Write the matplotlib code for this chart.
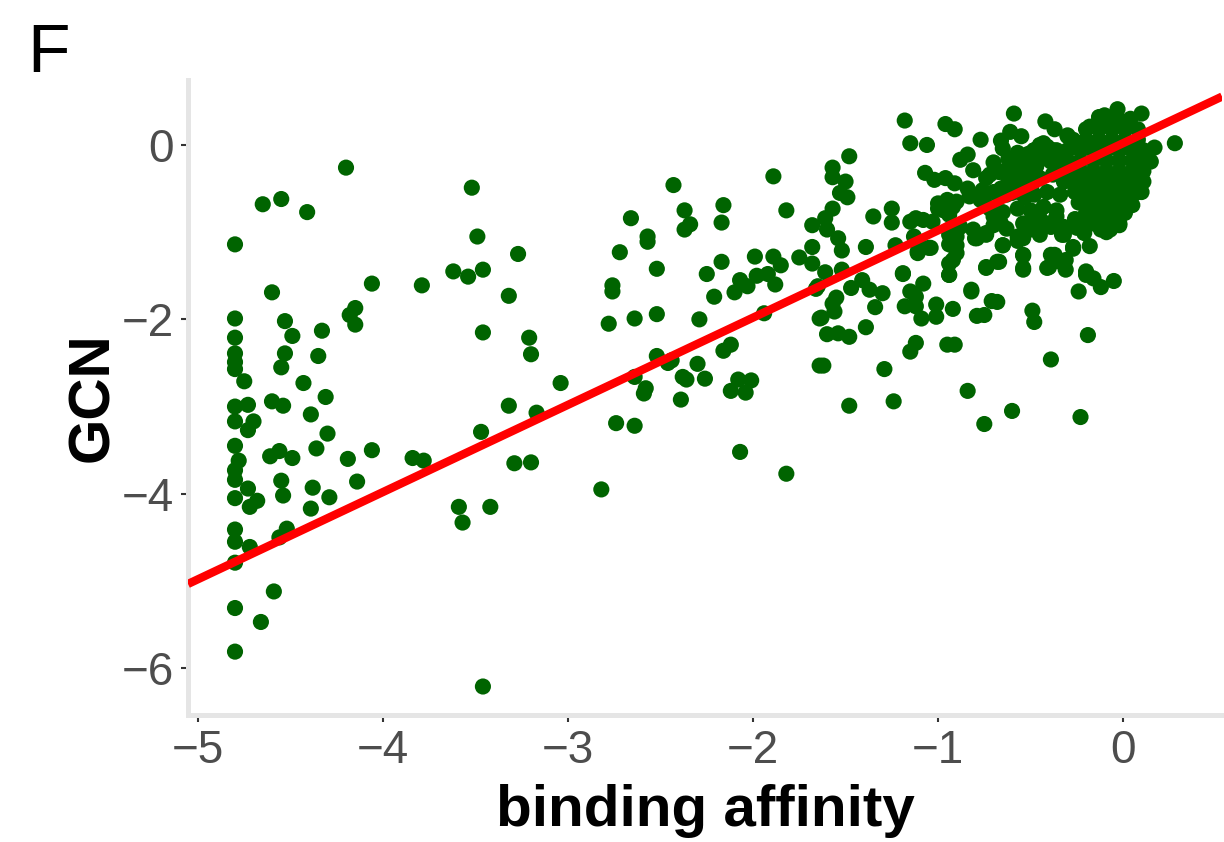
import matplotlib.pyplot as plt
import numpy as np

plt.rcParams['font.family'] = ['Liberation Sans', 'DejaVu Sans']

# left part of the cloud (strong binders)
left_x = [-4.20, -4.65, -4.55, -4.41, -4.80, -3.52, -3.49, -4.60, -4.06, -3.79,
          -3.62, -3.54, -3.46, -4.80, -4.53, -4.49, -4.33, -4.18, -4.15, -4.15,
          -3.46, -4.80, -4.80, -4.80, -4.80, -4.53, -4.55, -4.35, -4.75, -4.43,
          -4.80, -4.73, -4.80, -4.70, -4.73, -4.80, -4.78, -4.80, -4.80, -4.73,
          -4.80, -4.72, -4.68, -4.80, -4.80, -4.72, -4.80, -4.59, -4.80, -4.66,
          -4.80, -4.60, -4.54, -4.61, -4.56, -4.55, -4.54, -4.52, -4.56, -4.31,
          -4.39, -4.30, -4.36, -4.49, -4.19, -4.06, -3.84, -3.78, -3.47, -4.38,
          -4.14, -4.29, -4.39, -3.59, -3.42, -3.57, -3.46]
left_y = [-0.26, -0.68, -0.62, -0.77, -1.14, -0.49, -1.05, -1.69, -1.59, -1.61,
          -1.45, -1.51, -1.43, -1.99, -2.02, -2.19, -2.13, -1.95, -1.87, -2.06,
          -2.15, -2.21, -2.39, -2.49, -2.57, -2.39, -2.55, -2.42, -2.71, -2.73,
          -3.00, -2.98, -3.17, -3.17, -3.27, -3.45, -3.62, -3.73, -3.84, -3.94,
          -4.05, -4.15, -4.08, -4.41, -4.55, -4.61, -4.79, -5.12, -5.31, -5.47,
          -5.81, -2.94, -2.99, -3.57, -3.51, -3.85, -4.02, -4.40, -4.50, -2.89,
          -3.09, -3.31, -3.48, -3.59, -3.60, -3.50, -3.59, -3.62, -3.29, -3.93,
          -3.86, -4.04, -4.17, -4.15, -4.15, -4.33, -6.21]

# middle part
mid_x = [-3.27, -3.32, -3.21, -3.20, -3.04, -3.32, -3.17, -3.29, -3.20, -2.82,
         -2.66, -2.57, -2.57, -2.72, -2.52, -2.76, -2.76, -2.78, -2.64, -2.52,
         -2.43, -2.37, -2.34, -2.37, -2.17, -2.16, -1.89, -1.82, -1.68, -1.68,
         -1.68, -1.75, -2.25, -2.17, -2.21, -2.29, -1.99, -1.89, -1.85, -2.07,
         -2.03, -2.10, -1.98, -1.92, -1.88, -1.94, -1.65, -1.64, -1.64, -2.52,
         -2.46, -2.44, -2.64, -2.58, -2.59, -2.38, -2.36, -2.30, -2.26, -2.39,
         -2.74, -2.64, -2.16, -2.12, -2.08, -2.01, -2.12, -2.04, -2.07, -1.82]
mid_y = [-1.25, -1.73, -2.21, -2.40, -2.73, -2.99, -3.07, -3.65, -3.64, -3.95,
         -0.84, -1.05, -1.11, -1.23, -1.42, -1.61, -1.68, -2.05, -1.99, -1.94,
         -0.46, -0.75, -0.91, -0.97, -0.89, -0.69, -0.36, -0.75, -0.92, -1.17,
         -1.36, -1.29, -1.48, -1.34, -1.74, -2.00, -1.28, -1.28, -1.38, -1.55,
         -1.62, -1.69, -1.50, -1.48, -1.60, -1.93, -1.62, -1.99, -2.53, -2.42,
         -2.50, -2.47, -2.66, -2.79, -2.85, -2.66, -2.69, -2.51, -2.68, -2.92,
         -3.19, -3.22, -2.36, -2.29, -2.69, -2.70, -2.82, -2.84, -3.52, -3.77]

# right part, scattered points
right_x = [-1.18, -0.96, -0.91, -1.15, -1.06, -0.77, -0.59, -0.42, -0.37, -0.61,
           -0.55, -0.65, -0.57, 0.10, -0.03, 0.28, 0.17, 0.15, -1.48, -1.57,
           -1.57, -1.50, -1.53, -1.49, -1.57, -1.61, -1.60, -1.54, -1.52, -1.61,
           -1.52, -1.66, -1.47, -1.41, -1.37, -1.30, -1.55, -1.57, -1.56, -1.63,
           -1.34, -1.39, -1.60, -1.54, -1.48, -1.62, -1.48, -1.29, -1.24, -1.35,
           -1.25, -1.25, -1.39, -1.23, -1.19, -1.08, -1.15, -1.12, -1.18, -1.12,
           -1.09, -1.12, -1.15, -1.01, -1.01, -0.92, -0.95, -0.91, -0.84, -0.75,
           -0.60, -0.23, -0.39, -0.19, -0.82, -0.79, -0.75, -0.71, -0.68, -0.49,
           -0.48, -0.24, -0.20, -0.16, -0.12, -0.05, -0.41, -0.37, -0.31, -0.31,
           -0.54, -0.54, -0.74, -0.67, -0.94, -0.94, -0.94, -0.90, -0.65, -0.57,
           -0.27, -0.18, -1.11, -1.05, -1.19, -1.09, -1.04, -1.11, -0.80, -0.74,
           -0.82, -0.92, -0.94]
right_y = [0.28, 0.24, 0.18, 0.02, 0.00, 0.06, 0.36, 0.27, 0.18, 0.15,
           0.10, -0.04, -0.09, 0.36, 0.41, 0.02, -0.03, -0.19, -0.13, -0.26,
           -0.37, -0.42, -0.55, -0.60, -0.73, -0.84, -0.97, -1.07, -1.21, -1.46,
           -1.43, -1.65, -1.64, -1.55, -1.66, -1.70, -1.75, -1.82, -1.91, -1.98,
           -1.86, -2.09, -2.17, -2.16, -2.20, -2.53, -2.99, -2.57, -2.94, -0.82,
           -0.73, -0.89, -1.17, -1.15, -1.47, -1.59, -1.68, -1.74, -1.85, -1.85,
           -1.99, -2.27, -2.37, -1.83, -1.97, -1.88, -2.29, -2.29, -2.82, -3.20,
           -3.05, -3.12, -2.46, -2.18, -1.68, -1.96, -1.95, -1.79, -1.80, -1.90,
           -2.03, -1.68, -1.49, -1.53, -1.63, -1.56, -1.41, -1.26, -1.32, -1.43,
           -1.27, -1.43, -1.40, -1.34, -1.36, -1.49, -1.14, -1.24, -1.15, -1.10,
           -1.17, -1.16, -1.22, -1.18, -1.48, -1.17, -1.18, -1.24, -1.07, -1.41,
           -1.66, -1.32, -1.49]

# crowded area along the fit
dense_x = [-1.13, -1.15, -1.12, -1.08, -1.03, -1.00, -0.95, -0.92, -0.97, -1.00,
           -1.07, -1.02, -0.96, -0.91, -0.84, -0.83, -0.88, -0.84, -0.81, -0.77,
           -0.74, -0.70, -0.66, -0.81, -0.79, -0.74, -0.94, -0.90, -0.88, -0.57,
           -0.50, -0.48, -0.45, -0.40, -0.36, -0.32, -0.33, -0.48, -0.43, -0.38,
           -0.45, -0.50, -0.34, -0.30, -0.25, -0.21, -0.12, -0.07, -0.02, 0.02,
           -0.13, -0.10, -0.18, -0.30, 0.09, 0.10, 0.05, -0.09, -0.23, -0.45,
           -0.36, -0.41, -0.52, -0.47, -0.47, -0.39, -0.34, -0.76, -0.74, -0.99,
           -0.95, -0.90, -0.94, -0.94, -0.90, -0.26, -0.25]
dense_y = [-1.05, -0.88, -0.84, -0.86, -0.88, -0.67, -0.63, -0.71, -0.75, -0.73,
           -0.32, -0.40, -0.38, -0.44, -0.50, -0.59, -0.17, -0.11, -0.29, -0.63,
           -0.69, -0.82, -0.90, -0.97, -1.07, -1.01, -0.97, -1.05, -0.94, -1.05,
           -0.97, -0.90, -0.84, -0.90, -0.82, -0.94, -1.03, -0.06, 0.02, -0.06,
           -0.17, -0.21, -0.17, 0.11, -0.88, -1.01, -0.97, -0.97, -0.92, 0.25,
           0.32, 0.34, 0.21, 0.10, -0.38, -0.54, -0.69, -1.00, -0.88, 0.00,
           -0.06, -0.13, -0.19, -0.25, -0.11, -0.19, -0.27, -0.52, -0.38, -0.69,
           -0.75, -0.65, -0.80, -1.03, -1.15, -0.85, -0.95]

band_x = [-0.72, -0.67, -0.59, -0.52, -0.45, -0.38, -0.32, -0.70, -0.63, -0.56,
          -0.48, -0.41, -0.34, -0.72, -0.65, -0.57, -0.50, -0.43, -0.36, -0.70,
          -0.63, -0.54, -0.47, -0.39, -0.32, -0.74, -0.54, -0.45, -0.32, -0.27,
          -0.65, -0.54, -0.68, -0.39, -0.34, -0.54, -0.40, -0.20, -0.64, -0.58,
          -0.52, -0.62, -0.55, -0.49, -0.60, -0.53, -0.66, -0.70, -0.62, -0.55,
          -0.48, -0.41, -0.66, -0.58, -0.51]
band_y = [-0.34, -0.31, -0.34, -0.38, -0.38, -0.34, -0.42, -0.54, -0.57, -0.54,
          -0.57, -0.54, -0.57, -0.73, -0.77, -0.73, -0.75, -0.71, -0.75, -0.92,
          -0.96, -0.90, -0.92, -0.94, -1.00, -1.03, -1.07, -1.03, -1.03, -1.19,
          -1.15, -1.26, -1.34, -1.26, -1.34, -1.41, -1.40, -1.45, -0.30, -0.28,
          -0.30, -0.42, -0.45, -0.44, -0.55, -0.60, -0.50, -0.20, -0.16, -0.12,
          -0.06, -0.02, 0.05, -0.22, -0.10]

# the solid core near zero
core_x = [-0.10, -0.03, 0.04,
          -0.20, -0.13, -0.06, 0.01, 0.08,
          -0.27, -0.20, -0.13, -0.06, 0.01, 0.08,
          -0.30, -0.23, -0.16, -0.09, -0.02, 0.05, 0.11,
          -0.30, -0.23, -0.16, -0.09, -0.02, 0.05, 0.11,
          -0.30, -0.23, -0.16, -0.09, -0.02, 0.05, 0.11,
          -0.28, -0.21, -0.14, -0.07, 0.00, 0.07, 0.11,
          -0.26, -0.19, -0.12, -0.05, 0.02, 0.08,
          -0.24, -0.17, -0.10, -0.03, 0.04,
          -0.20, -0.13, -0.06, 0.01,
          -0.16, -0.09, -0.02]
core_y = [0.30, 0.30, 0.30,
          0.18, 0.18, 0.18, 0.18, 0.18,
          0.06, 0.06, 0.06, 0.06, 0.06, 0.06,
          -0.06, -0.06, -0.06, -0.06, -0.06, -0.06, -0.06,
          -0.18, -0.18, -0.18, -0.18, -0.18, -0.18, -0.18,
          -0.30, -0.30, -0.30, -0.30, -0.30, -0.30, -0.30,
          -0.42, -0.42, -0.42, -0.42, -0.42, -0.42, -0.42,
          -0.54, -0.54, -0.54, -0.54, -0.54, -0.54,
          -0.66, -0.66, -0.66, -0.66, -0.66,
          -0.78, -0.78, -0.78, -0.78,
          -0.90, -0.90, -0.90]

# fitted line
slope = 1.0
intercept = 0.02

xlim = (-5.054, 0.535)
ylim = (-6.537, 0.745)

affinity = np.concatenate([left_x, mid_x, right_x, dense_x, band_x, core_x])
gcn = np.concatenate([left_y, mid_y, right_y, dense_y, band_y, core_y])

fig = plt.figure(figsize=(12.24, 8.42), dpi=100)
ax = fig.add_axes([0.1536, 0.1508, 0.8448, 0.7542])

ax.scatter(affinity, gcn, s=135, color='#006400', edgecolors='none', zorder=2)
xs = np.array(xlim)
ax.plot(xs, slope * xs + intercept, color='#FF0000', lw=6,
        solid_capstyle='butt', zorder=3)

ax.set_xlim(xlim)
ax.set_ylim(ylim)
ax.set_xticks([-5, -4, -3, -2, -1, 0])
ax.set_yticks([0, -2, -4, -6])

for s in ['top', 'right']:
    ax.spines[s].set_visible(False)
for s in ['left', 'bottom']:
    ax.spines[s].set_color('#E5E5E5')
    ax.spines[s].set_linewidth(3.6)

ax.tick_params(length=5, width=1.5, color='#333333', labelcolor='#4D4D4D',
               labelsize=33, pad=5)

ax.set_xlabel('binding affinity', fontsize=42, fontweight='bold', labelpad=8)
ax.set_ylabel('GCN', fontsize=42, fontweight='bold', labelpad=1)

fig.text(27 / 1224, 1 - 72 / 842, 'F', fontsize=50, va='baseline')

plt.savefig('out.png', dpi=100)
